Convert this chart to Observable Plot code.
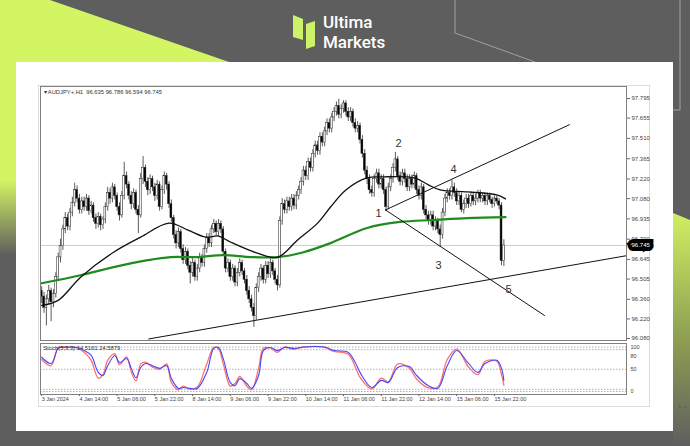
<!DOCTYPE html>
<html><head><meta charset="utf-8">
<script src="https://cdn.jsdelivr.net/npm/d3@7"></script>
<script src="https://cdn.jsdelivr.net/npm/@observablehq/plot@0.6"></script>
<style>
body{margin:0;width:690px;height:446px;overflow:hidden;background:#5e5e5e;position:relative;font-family:"Liberation Sans",Arial,sans-serif}
#bg{position:absolute;left:0;top:0}
#card{position:absolute;left:16px;top:62px;width:657px;height:369px;background:#fff}
#shot{position:absolute;left:38px;top:85px;width:612px;height:322px;border:1px solid #dcdcdc;box-sizing:border-box}
#main,#stoch{position:absolute;left:0}
#main{top:0}
#stoch{top:340px}
.logo{position:absolute;left:323px;color:#fff;font-family:Roboto,"Liberation Sans",sans-serif;font-size:17px;font-weight:500;line-height:normal;white-space:nowrap}
</style></head>
<body>
<svg id="bg" width="690" height="446">
<defs>
<linearGradient id="gl" gradientUnits="userSpaceOnUse" x1="0" y1="0" x2="0" y2="300"><stop offset="0" stop-color="#d3f563"/><stop offset="0.6" stop-color="#d3f563"/><stop offset="0.85" stop-color="#5e5e5e"/><stop offset="1" stop-color="#5e5e5e"/></linearGradient>
<linearGradient id="gr" gradientUnits="userSpaceOnUse" x1="0" y1="213" x2="0" y2="446"><stop offset="0" stop-color="#cfef62"/><stop offset="0.55" stop-color="#8c9d52"/><stop offset="1" stop-color="#5e5e5e"/></linearGradient>
</defs>
<polygon points="0,0 50,0 229,62 16,62 16,446 0,446" fill="url(#gl)"/>
<polygon points="673,213 690,220 690,446 673,446" fill="url(#gr)"/>
<polyline points="455,0 455,33 535,62" fill="none" stroke="#a0a0a0" stroke-width="1"/>
<polyline points="680,0 680,110 673,110" fill="none" stroke="#a0a0a0" stroke-width="1"/>
<polygon points="293,15 303,19 303,40 293,37" fill="#cdf26a"/>
<polygon points="306,24 315,21 315,46 306,49" fill="#cdf26a"/>
</svg>
<div class="logo" style="top:12px">Ultima</div>
<div class="logo" style="top:32px">Markets</div>
<div id="card"></div>
<div id="shot"></div>
<script>
// ---- data ----
const opens = [96.42,96.38,96.30,96.36,96.42,96.34,96.40,96.52,96.66,96.74,
96.86,96.94,96.88,96.98,97.05,97.14,97.08,97.00,97.06,97.02,
97.08,96.99,97.03,96.94,96.90,96.95,96.89,96.93,97.02,97.12,
97.08,97.16,97.10,97.02,96.96,97.10,97.24,97.18,97.10,97.04,
97.12,97.00,96.96,97.22,97.30,97.20,97.14,97.22,97.16,97.10,
97.18,97.02,97.14,97.24,97.18,97.04,96.94,96.82,96.76,96.84,
96.72,96.64,96.70,96.60,96.55,96.62,96.52,96.58,96.66,96.62,
96.72,96.80,96.76,96.86,96.90,96.84,96.90,96.86,96.70,96.58,
96.62,96.52,96.58,96.48,96.55,96.62,96.56,96.50,96.42,96.36,
96.30,96.24,96.44,96.52,96.58,96.50,96.60,96.54,96.62,96.56,
96.50,96.46,96.92,97.04,97.00,97.06,97.02,97.08,97.03,97.10,
97.14,97.20,97.28,97.24,97.34,97.30,97.40,97.46,97.42,97.52,
97.48,97.56,97.62,97.58,97.66,97.70,97.74,97.68,97.72,97.76,
97.70,97.66,97.70,97.62,97.58,97.60,97.50,97.40,97.28,97.22,
97.14,97.12,97.22,97.26,97.18,97.22,97.14,97.02,97.16,97.22,
97.30,97.36,97.24,97.20,97.26,97.22,97.16,97.22,97.18,97.24,
97.14,97.10,97.16,97.00,96.96,96.92,96.96,96.88,96.92,96.86,
96.82,96.98,97.08,97.12,97.10,97.16,97.12,97.06,97.10,97.00,
97.04,97.08,97.04,97.10,97.06,97.08,97.12,97.08,97.10,97.06,
97.10,97.07,97.04,97.08,97.06,97.03,96.635];
const highs = [96.45,96.41,96.39,96.46,96.44,96.43,96.55,96.69,96.79,96.89,
96.98,96.97,97.01,97.09,97.19,97.17,97.11,97.09,97.09,97.11,
97.10,97.06,97.05,96.97,96.98,96.97,96.95,97.05,97.16,97.15,
97.19,97.18,97.12,97.05,97.13,97.34,97.27,97.20,97.13,97.15,
97.14,97.03,97.26,97.38,97.32,97.23,97.25,97.24,97.19,97.21,
97.20,97.17,97.27,97.26,97.20,97.07,96.96,96.85,96.87,96.86,
96.75,96.73,96.72,96.63,96.65,96.64,96.61,96.69,96.68,96.75,
96.83,96.83,96.89,96.93,96.92,96.93,96.92,96.88,96.72,96.65,
96.64,96.61,96.60,96.58,96.65,96.64,96.58,96.53,96.45,96.39,
96.33,96.47,96.55,96.61,96.60,96.63,96.63,96.65,96.64,96.58,
96.53,96.95,97.08,97.07,97.09,97.09,97.11,97.11,97.13,97.17,
97.23,97.31,97.31,97.37,97.37,97.43,97.49,97.49,97.55,97.55,
97.59,97.65,97.65,97.69,97.73,97.77,97.79,97.75,97.78,97.78,
97.73,97.73,97.72,97.65,97.63,97.62,97.53,97.43,97.31,97.25,
97.17,97.25,97.29,97.29,97.25,97.25,97.16,97.19,97.25,97.33,
97.41,97.38,97.27,97.29,97.29,97.25,97.25,97.25,97.27,97.26,
97.17,97.19,97.18,97.03,96.99,96.99,96.99,96.95,96.94,96.89,
97.01,97.11,97.15,97.15,97.21,97.19,97.15,97.13,97.12,97.07,
97.11,97.11,97.13,97.12,97.11,97.14,97.14,97.12,97.12,97.12,
97.12,97.09,97.10,97.10,97.08,97.05,96.786];
const lows = [96.33,96.26,96.17,96.32,96.20,96.30,96.37,96.49,96.62,96.71,
96.83,96.85,96.85,96.95,97.02,97.05,96.97,96.97,96.99,96.99,
96.96,96.97,96.91,96.86,96.87,96.85,96.86,96.90,96.99,97.04,
97.05,97.07,96.99,96.92,96.94,97.07,97.15,97.07,97.00,97.01,
96.97,96.83,96.94,97.18,97.16,97.10,97.11,97.13,97.06,97.07,
96.99,97.00,97.11,97.14,97.01,96.91,96.79,96.72,96.73,96.69,
96.61,96.61,96.57,96.47,96.52,96.49,96.49,96.55,96.59,96.59,
96.69,96.73,96.73,96.83,96.81,96.81,96.83,96.67,96.55,96.55,
96.49,96.49,96.45,96.45,96.52,96.53,96.47,96.39,96.33,96.27,
96.16,96.21,96.41,96.49,96.47,96.47,96.51,96.51,96.53,96.47,
96.42,96.44,96.89,96.97,96.97,96.99,96.99,97.00,97.00,97.07,
97.11,97.17,97.21,97.21,97.27,97.27,97.37,97.39,97.39,97.45,
97.45,97.53,97.55,97.55,97.63,97.67,97.65,97.65,97.69,97.67,
97.63,97.63,97.59,97.55,97.55,97.47,97.37,97.25,97.18,97.11,
97.09,97.09,97.19,97.15,97.15,97.11,96.99,97.00,97.13,97.19,
97.27,97.21,97.17,97.17,97.19,97.13,97.13,97.15,97.15,97.11,
97.07,97.07,96.97,96.93,96.89,96.89,96.85,96.85,96.83,96.73,
96.79,96.95,97.05,97.07,97.07,97.09,97.03,97.03,96.98,96.97,
97.01,97.01,97.02,97.03,97.03,97.05,97.05,97.05,97.03,97.03,
97.05,97.01,97.02,97.04,97.00,96.60,96.594];
const closes = [96.38,96.30,96.36,96.42,96.34,96.40,96.52,96.66,96.74,96.86,
96.94,96.88,96.98,97.05,97.14,97.08,97.00,97.06,97.02,97.08,
96.99,97.03,96.94,96.90,96.95,96.89,96.93,97.02,97.12,97.08,
97.16,97.10,97.02,96.96,97.10,97.24,97.18,97.10,97.04,97.12,
97.00,96.96,97.22,97.30,97.20,97.14,97.22,97.16,97.10,97.18,
97.02,97.14,97.24,97.18,97.04,96.94,96.82,96.76,96.84,96.72,
96.64,96.70,96.60,96.55,96.62,96.52,96.58,96.66,96.62,96.72,
96.80,96.76,96.86,96.90,96.84,96.90,96.86,96.70,96.58,96.62,
96.52,96.58,96.48,96.55,96.62,96.56,96.50,96.42,96.36,96.30,
96.24,96.44,96.52,96.58,96.50,96.60,96.54,96.62,96.56,96.50,
96.46,96.92,97.04,97.00,97.06,97.02,97.08,97.03,97.10,97.14,
97.20,97.28,97.24,97.34,97.30,97.40,97.46,97.42,97.52,97.48,
97.56,97.62,97.58,97.66,97.70,97.74,97.68,97.72,97.76,97.70,
97.66,97.70,97.62,97.58,97.60,97.50,97.40,97.28,97.22,97.14,
97.12,97.22,97.26,97.18,97.22,97.14,97.02,97.16,97.22,97.30,
97.36,97.24,97.20,97.26,97.22,97.16,97.22,97.18,97.24,97.14,
97.10,97.16,97.00,96.96,96.92,96.96,96.88,96.92,96.86,96.82,
96.98,97.08,97.12,97.10,97.16,97.12,97.06,97.10,97.00,97.04,
97.08,97.04,97.10,97.06,97.08,97.12,97.08,97.10,97.06,97.10,
97.07,97.04,97.08,97.06,97.03,96.635,96.745];
const lastPrice = 96.745;
const header = "\u25BE AUDJPY+,H1  96.635 96.786 96.594 96.745";

const maBlackIdx = [0,7,16.5,30.5,42,54,62,69.5,75,80,91.5,100,108.5,117,122.5,129,138,145,158,164,169,180.5,193,196.7];
const maBlackVal = [96.317,96.353,96.518,96.697,96.805,96.905,96.855,96.805,96.812,96.770,96.690,96.660,96.784,96.905,97.020,97.142,97.228,97.235,97.228,97.178,97.142,97.128,97.106,97.078];
const maGreenIdx = [0,16.5,30.5,45,54.7,66,77,88.6,100,111,122.5,138,152,166,180.5,196.7];
const maGreenVal = [96.475,96.532,96.590,96.640,96.662,96.662,96.676,96.662,96.662,96.697,96.762,96.870,96.913,96.927,96.941,96.948];

const supportIdx = [45.4,248], supportVal = [96.077,96.672];
const upperIdx = [145.8,223.8], upperVal = [96.999,97.608];
const lowerIdx = [145.8,213.2], lowerVal = [96.999,96.245];
const waveText = ["1","2","3","4","5"];
const waveIdx = [142.9,151.3,168.3,174.7,198];
const waveVal = [96.977,97.472,96.604,97.286,96.432];

const priceTicks = [97.795,97.655,97.510,97.365,97.220,97.080,96.935,96.790,96.645,96.505,96.360,96.220,96.080];

const stochIdx = [0,4,7,9,15,18,21,24,26,28,31,33,36,38,40,42,44,47,50,53,55,58,60,63,66,70,73,75,77,80,82,84,87,89,92,94,97,100,103,107,111,120,124,130,133,135,140,144,147,151,156,159,164,168,172,176,181,185,188,193,195,196];
const stochK = [72,58,99,100,98,88,70,30,38,70,85,60,78,44,24,62,66,55,50,62,20,4,12,5,10,62,99,96,62,12,18,34,12,4,52,97,98,88,100,95,100,99,90,84,55,32,6,30,22,62,52,28,8,10,72,96,55,38,68,68,38,14.5];
const stochD = [77,63,97,99,99,92,81,43,36,58,81,65,74,52,31,54,63,58,52,58,29,7,9,7,7,43,97,99,74,20,13,29,18,7,36,92,99,92,99,97,100,100,92,88,65,43,9,25,20,54,56,36,13,7,58,92,63,43,63,70,52,24.6];
const stochTitle = "Stoch(5,3,3) 14.5161 24.5879";
const stochLevels = [100,94,50,5,0];
const stochAxis = [100,80,50,0];

const timeIdx = [0,16,32,48,64,80,96,112,128,144,160,176,192];
const timeLabels = ["3 Jan 2024","4 Jan 14:00","5 Jan 06:00","5 Jan 22:00","8 Jan 14:00","9 Jan 06:00","9 Jan 22:00","10 Jan 14:00","11 Jan 06:00","11 Jan 22:00","12 Jan 14:00","15 Jan 06:00","15 Jan 22:00"];

// ---- build tables ----
const candles = closes.map((c, i) => ({i, o: opens[i], h: highs[i], l: lows[i], c}));
const zip = (a, b) => a.map((v, k) => ({i: v, p: b[k]}));
const ma50 = zip(maBlackIdx, maBlackVal);
const ma200 = zip(maGreenIdx, maGreenVal);
const support = zip(supportIdx, supportVal);
const upper = zip(upperIdx, upperVal);
const lower = zip(lowerIdx, lowerVal);
const waves = waveText.map((t, k) => ({t, i: waveIdx[k], p: waveVal[k]}));
const stoch = stochIdx.map((v, k) => ({i: v, k: stochK[k], d: stochD[k]}));

const font = "'Liberation Sans', Arial, sans-serif";
const xDomain = [-0.5, 248];

const main = Plot.plot({
  width: 690, height: 342,
  marginTop: 86, marginBottom: 2, marginLeft: 40, marginRight: 64,
  style: {background: "transparent", fontFamily: font, color: "#333", overflow: "visible"},
  x: {domain: xDomain, axis: null},
  y: {domain: [96.066, 97.881], axis: null},
  marks: [
    Plot.ruleY([lastPrice], {stroke: "#cfcfcf"}),
    Plot.ruleX(candles, {x: "i", y1: "l", y2: "h", stroke: "#5a5a5a", strokeWidth: 1}),
    Plot.rect(candles, {x1: d => d.i - 0.4, x2: d => d.i + 0.4, y1: "o", y2: "c",
      fill: d => d.c >= d.o ? "#ffffff" : "#000000", stroke: "#222", strokeWidth: 0.5}),
    Plot.line(ma200, {x: "i", y: "p", stroke: "#1f8c1f", strokeWidth: 2.2, curve: "catmull-rom"}),
    Plot.line(ma50, {x: "i", y: "p", stroke: "#111", strokeWidth: 1.3, curve: "catmull-rom"}),
    Plot.line(support, {x: "i", y: "p", stroke: "#111", strokeWidth: 1, clip: true}),
    Plot.line(upper, {x: "i", y: "p", stroke: "#111", strokeWidth: 1, clip: true}),
    Plot.line(lower, {x: "i", y: "p", stroke: "#111", strokeWidth: 1, clip: true}),
    Plot.text(waves, {x: "i", y: "p", text: "t", fontSize: 11, fill: "#333"}),
    Plot.frame({stroke: "#808080"}),
    Plot.axisY(priceTicks, {anchor: "right", tickSize: 3, tickPadding: 2, tickFormat: d => d.toFixed(3), fontSize: 6, fill: "#444", stroke: "#666"}),
    Plot.text([lastPrice], {y: d => d, frameAnchor: "right", dx: 5, textAnchor: "start", text: d => d.toFixed(3),
      fill: "#fff", stroke: "#000", strokeWidth: 8, strokeLinejoin: "miter", fontSize: 6}),
    Plot.text([header], {frameAnchor: "top-left", dx: 3, dy: 3, fontSize: 5.8, fill: "#333"})
  ]
});
main.id = "main";
document.body.appendChild(main);

const sp = Plot.plot({
  width: 690, height: 70,
  marginTop: 3, marginBottom: 16, marginLeft: 40, marginRight: 64,
  style: {background: "transparent", fontFamily: font, color: "#333", overflow: "visible"},
  x: {domain: xDomain, axis: null},
  y: {domain: [-6.7, 107.9], axis: null},
  marks: [
    Plot.ruleY(stochLevels, {stroke: "#b0b0b0", strokeDasharray: "1.5,1.5"}),
    Plot.line(stoch, {x: "i", y: "k", stroke: "#ff6f6f", strokeWidth: 1.3, curve: "catmull-rom", clip: true}),
    Plot.line(stoch, {x: "i", y: "d", stroke: "#4646ff", strokeWidth: 1.1, curve: "catmull-rom", clip: true}),
    Plot.frame({stroke: "#808080"}),
    Plot.axisX(timeIdx, {anchor: "bottom", tickSize: 2, tickPadding: 1, tickFormat: d => timeLabels[timeIdx.indexOf(d)],
      textAnchor: "start", fontSize: 5.5, fill: "#444", stroke: "#666"}),
    Plot.axisY(stochAxis, {anchor: "right", tickSize: 0, tickPadding: 4, fontSize: 5.5, fill: "#444"}),
    Plot.text([stochTitle], {frameAnchor: "top-left", dx: 3, dy: 2, fontSize: 5.8, fill: "#333"})
  ]
});
sp.id = "stoch";
document.body.appendChild(sp);
</script>
</body></html>
